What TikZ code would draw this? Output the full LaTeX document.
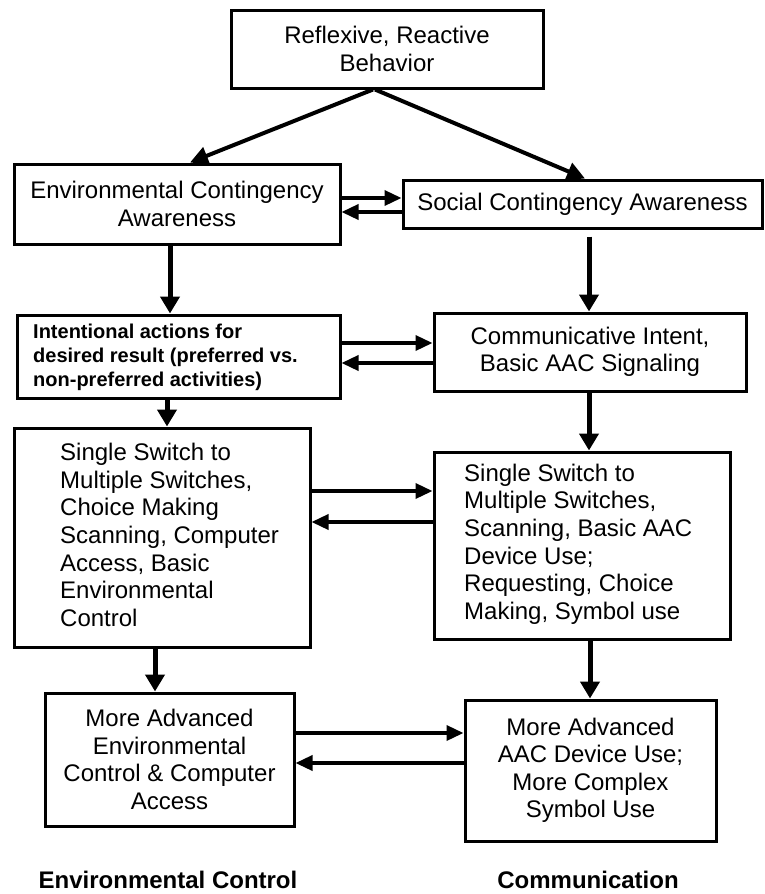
\documentclass[tikz,border=0pt]{standalone}
\usepackage{fontspec}
\setmainfont{Liberation Sans}
\usetikzlibrary{arrows.meta}
\begin{document}
\begin{tikzpicture}[x=1pt,y=-1pt,
  box/.style={draw=black, line width=3pt, fill=white, inner sep=0pt, align=center,
    font=\fontsize{24}{27.5}\selectfont},
  txtl/.style={anchor=west, align=left, inner sep=0pt, font=\fontsize{24}{27.6}\selectfont},
  txtb/.style={anchor=west, align=left, inner sep=0pt, font=\fontsize{20}{24}\selectfont\bfseries},
  harr/.style={line width=3.5pt, -{Triangle[length=17pt,width=15pt]}},
  varr/.style={line width=5pt, -{Triangle[length=17pt,width=19pt]}},
  darr/.style={line width=4pt, -{Triangle[length=18pt,width=18pt]}},
  lab/.style={anchor=base, inner sep=0pt, font=\fontsize{24}{27.6}\selectfont\bfseries}
]
\useasboundingbox (0,0) rectangle (765,894);

% boxes
\node[box, minimum width=312pt, minimum height=78pt] (top) at (387,49) {Reflexive, Reactive\\Behavior};
\node[box, minimum width=326pt, minimum height=80pt] (env) at (177,204) {Environmental Contingency\\Awareness};
\node[box, minimum width=359pt, minimum height=48pt] (soc) at (582.5,204) {Social Contingency Awareness};
\node[box, minimum width=323pt, minimum height=83pt] (int) at (178.5,356.5) {};
\node[txtb] (inttxt) at (33,357) {Intentional actions for\\desired result (preferred vs.\\non-preferred activities)};
\node[box, minimum width=312pt, minimum height=78pt] (com) at (590,352) {Communicative Intent,\\Basic AAC Signaling};
\node[box, minimum width=296pt, minimum height=219pt] (ssl) at (162,537.5) {};
\node[txtl] (ssltxt) at (60,535) {Single Switch to\\Multiple Switches,\\Choice Making\\Scanning, Computer\\Access, Basic\\Environmental\\Control};
\node[box, minimum width=296pt, minimum height=187pt] (ssr) at (582,545.5) {};
\node[txtl] (ssrtxt) at (464,544) {Single Switch to\\Multiple Switches,\\Scanning, Basic AAC\\Device Use;\\Requesting, Choice\\Making, Symbol use};
\node[box, minimum width=249pt, minimum height=133pt] (adl) at (169.5,759.5) {More Advanced\\Environmental\\Control \& Computer\\Access};
\node[box, minimum width=251pt, minimum height=141pt] (adr) at (590.5,770.5) {More Advanced\\AAC Device Use;\\More Complex\\Symbol Use};

% labels
\node[lab] (l1) at (168,888) {Environmental Control};
\node[lab] (l2) at (588,888) {Communication};

% diagonal arrows
\draw[darr] ([xshift=-14pt]top.south) -- ([xshift=13pt]env.north);
\draw[darr] ([xshift=-12pt]top.south) -- ([xshift=2.5pt]soc.north);

% horizontal arrows
\draw[harr] ([yshift=6pt]env.east) -- ([yshift=6pt]env.east -| soc.west);
\draw[harr] ([yshift=-8pt]env.east -| soc.west) -- ([yshift=-8pt]env.east);
\draw[harr] ([yshift=13.5pt]int.east) -- ([yshift=13.5pt]int.east -| com.west);
\draw[harr] ([yshift=-6.5pt]int.east -| com.west) -- ([yshift=-6.5pt]int.east);
\draw[harr] ([yshift=46.5pt]ssl.east) -- ([yshift=46.5pt]ssl.east -| ssr.west);
\draw[harr] ([yshift=15.5pt]ssl.east -| ssr.west) -- ([yshift=15.5pt]ssl.east);
\draw[harr] ([yshift=26.5pt]adl.east) -- ([yshift=26.5pt]adl.east -| adr.west);
\draw[harr] ([yshift=-3.5pt]adl.east -| adr.west) -- ([yshift=-3.5pt]adl.east);

% vertical arrows
\draw[varr] ([xshift=-7pt]env.south) -- ([xshift=-7pt]env.south |- int.north);
\draw[varr, shorten <=7pt] ([xshift=6.5pt]soc.south) -- ([xshift=6.5pt]soc.south |- com.north);
\draw[varr] ([xshift=-11.5pt]int.south) -- ([xshift=-11.5pt]int.south |- ssl.north);
\draw[varr] ([xshift=-1pt]com.south) -- ([xshift=-1pt]com.south |- ssr.north);
\draw[varr] ([xshift=-7pt]ssl.south) -- ([xshift=-7pt]ssl.south |- adl.north);
\draw[varr] ([xshift=8pt]ssr.south) -- ([xshift=8pt]ssr.south |- adr.north);
\end{tikzpicture}
\end{document}
